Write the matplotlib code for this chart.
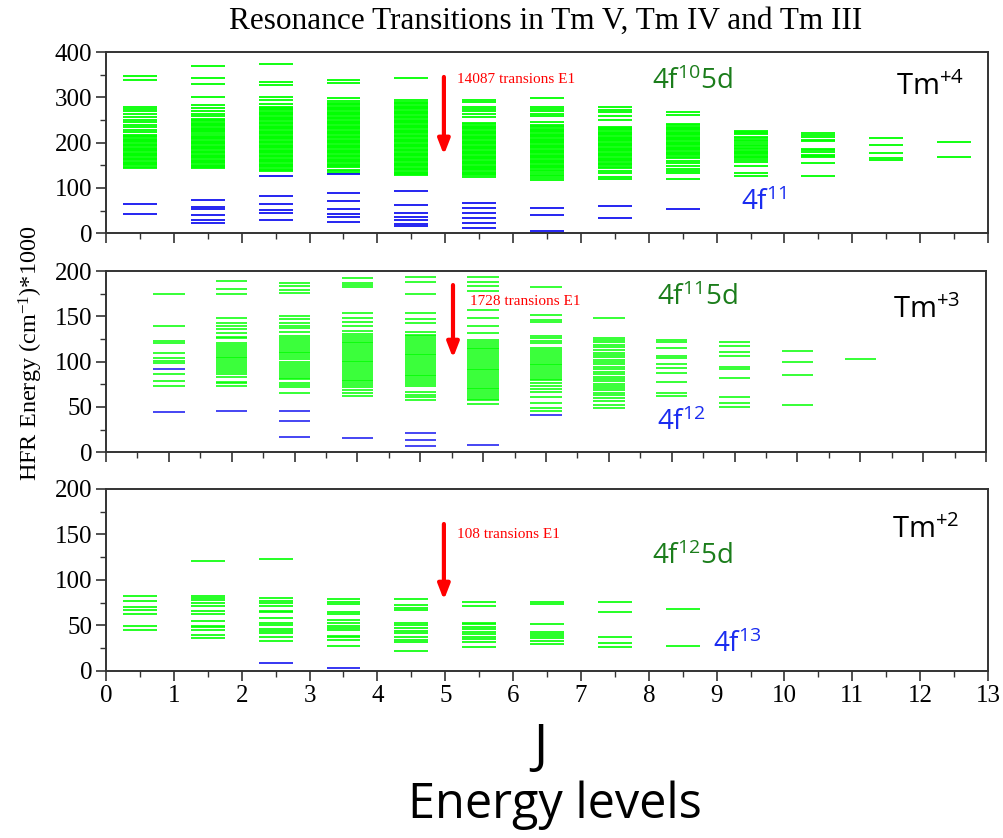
import matplotlib
matplotlib.use("Agg")
import matplotlib.pyplot as plt
from matplotlib.ticker import MultipleLocator, NullFormatter

# ---------------- Tm V (Tm+4) ----------------
tm4_J = [0.5, 1.5, 2.5, 3.5, 4.5, 5.5, 6.5, 7.5, 8.5, 9.5, 10.5, 11.5, 12.5]
tm4_g05 = [347.8, 338.8, 279.8, 274.7, 268.8, 263.7, 256.3, 250.4, 246.7, 239.4, 234.2, 228.3, 223.2, 217.3,
           214.6, 211.8, 209.0, 206.1, 203.3, 200.4, 197.7, 194.9, 192.0, 189.2, 186.5, 183.6, 180.8, 178.0,
           175.1, 172.3, 169.6, 166.8, 164.0, 161.2, 158.4, 155.2, 152.5, 149.7, 147.0, 143.6]
tm4_g15 = [368.3, 342.5, 330.0, 300.5, 282.9, 276.3, 268.8, 263.7, 257.8, 252.7, 250.0, 247.2, 244.4, 241.6,
           238.8, 236.0, 233.2, 230.4, 227.6, 224.8, 222.5, 218.6, 215.8, 213.0, 210.2, 207.4, 204.6, 201.8,
           199.0, 196.2, 193.4, 190.6, 187.8, 185.0, 182.2, 179.4, 176.6, 173.8, 171.0, 168.2, 165.4, 162.6,
           159.8, 157.0, 154.2, 151.4, 148.6, 145.8, 143.6]
tm4_g25 = [374.2, 334.4, 327.7, 300.5, 294.6, 285.8, 279.8, 277.0, 274.2, 271.4, 268.6, 265.8, 263.0, 260.2,
           257.4, 254.6, 251.8, 249.0, 246.2, 243.4, 240.6, 237.8, 235.0, 232.2, 229.4, 226.6, 223.8, 221.0,
           218.2, 215.4, 212.6, 209.8, 207.0, 204.2, 201.4, 198.6, 195.8, 193.0, 190.2, 187.4, 184.6, 181.8,
           179.0, 176.2, 173.4, 170.6, 167.8, 165.0, 162.2, 159.4, 156.6, 153.8, 151.0, 148.2, 145.4, 142.6,
           140.7, 137.0]
tm4_g35 = [337.3, 330.6, 297.5, 290.9, 288.1, 285.3, 282.5, 279.7, 276.9, 274.1, 271.3, 268.5, 265.7, 262.9,
           260.1, 257.3, 254.5, 251.7, 248.9, 246.1, 243.3, 240.5, 237.7, 234.9, 232.1, 229.3, 226.5, 223.7,
           220.9, 218.1, 215.3, 212.5, 209.7, 206.9, 204.1, 201.3, 198.5, 195.7, 192.9, 190.1, 187.3, 184.5,
           181.7, 178.9, 176.1, 173.3, 170.5, 167.7, 164.9, 162.1, 159.3, 156.5, 153.7, 150.9, 148.1, 145.8,
           140.5, 137.8, 133.0]
tm4_g45 = [341.7, 293.1, 290.3, 287.5, 284.7, 281.9, 279.1, 276.3, 273.5, 270.7, 267.9, 265.1, 262.3, 259.5,
           256.7, 253.9, 251.1, 248.3, 245.5, 242.7, 239.9, 237.1, 234.3, 231.5, 228.7, 225.9, 223.1, 220.3,
           217.5, 214.7, 211.9, 209.1, 206.3, 203.5, 200.7, 197.9, 195.1, 192.3, 189.5, 186.7, 183.9, 181.1,
           178.3, 175.5, 172.7, 169.9, 167.1, 164.3, 161.5, 158.7, 155.9, 153.1, 150.3, 147.5, 144.7, 141.9,
           139.1, 136.3, 133.5, 130.7, 128.8]
tm4_g55 = [294.6, 289.4, 279.8, 274.7, 268.8, 263.7, 256.3, 243.1, 240.4, 237.6, 234.9, 232.1, 229.4, 226.6,
           223.9, 221.1, 218.4, 215.6, 212.9, 210.1, 207.4, 204.6, 201.9, 199.1, 196.4, 193.6, 190.9, 188.1,
           185.4, 182.6, 179.9, 177.1, 174.4, 171.6, 168.9, 166.1, 163.4, 160.6, 157.9, 155.1, 152.4, 149.6,
           146.9, 144.1, 141.4, 138.6, 135.9, 133.1, 130.4, 127.6, 125.1]
tm4_g65 = [298.0, 279.8, 274.7, 268.8, 263.7, 257.8, 246.7, 239.4, 236.7, 233.9, 231.2, 228.4, 225.7, 222.9,
           220.2, 217.4, 214.7, 211.9, 209.2, 206.4, 203.7, 200.9, 198.2, 195.4, 192.7, 189.9, 187.2, 184.4,
           181.7, 178.9, 176.2, 173.4, 170.7, 167.9, 165.2, 162.4, 159.7, 156.9, 154.2, 151.4, 148.7, 145.9,
           143.2, 140.4, 136.8, 133.1, 129.5, 125.8, 121.6, 117.8]
tm4_g75 = [278.3, 272.5, 266.6, 259.3, 250.4, 235.6, 232.9, 230.1, 227.4, 224.6, 221.9, 219.1, 216.4, 213.6,
           210.9, 208.1, 205.4, 202.6, 199.9, 197.1, 194.4, 191.6, 188.9, 186.1, 183.4, 180.6, 177.9, 175.1,
           172.4, 169.6, 166.9, 164.1, 161.4, 158.6, 155.9, 153.1, 150.4, 147.2, 143.6, 138.4, 132.5, 125.1,
           119.3]
tm4_g85 = [268.1, 260.7, 240.9, 238.1, 235.4, 232.6, 229.9, 227.1, 224.4, 221.6, 218.9, 216.1, 213.4, 210.6,
           207.9, 205.1, 202.4, 199.6, 196.9, 194.1, 191.4, 188.6, 185.9, 183.1, 180.4, 177.6, 174.9, 172.1,
           169.3, 165.7, 160.5, 154.6, 149.5, 141.4, 138.4, 132.5, 119.3]
tm4_g95 = [226.1, 223.8, 220.9, 218.2, 213.6, 211.0, 206.2, 202.6, 199.8, 195.2, 192.5, 187.8, 185.0, 182.7,
           179.5, 176.8, 174.0, 171.6, 168.5, 165.7, 162.0, 158.4, 148.8, 134.0, 127.4]
tm4_g105 = [220.9, 218.0, 213.6, 206.2, 203.5, 186.3, 183.5, 178.9, 173.0, 170.5, 167.9, 156.1, 126.6]
tm4_g115 = [211.4, 195.2, 176.8, 165.7, 162.0]
tm4_g125 = [201.1, 169.4]
tm4_green = [tm4_g05, tm4_g15, tm4_g25, tm4_g35, tm4_g45, tm4_g55, tm4_g65,
             tm4_g75, tm4_g85, tm4_g95, tm4_g105, tm4_g115, tm4_g125]
tm4_blue = [[64.1, 43.3], [72.9, 59.0, 53.9, 40.6, 28.8, 23.6], [126.6, 83.1, 65.4, 52.2, 44.8, 28.6],
            [131.1, 89.1, 72.2, 54.5, 43.4, 35.3, 25.7], [94.2, 62.6, 44.8, 36.7, 29.4, 19.8, 15.4],
            [66.3, 55.2, 44.2, 33.2, 23.6, 11.1], [56.6, 40.4, 5.8], [61.0, 33.2], [53.7], [], [], [], []]

# ---------------- Tm IV (Tm+3) ----------------
tm3_J = [1, 2, 3, 4, 5, 6, 7, 8, 9, 10, 11, 12]
tm3_g1 = [174.6, 139.7, 122.8, 120.3, 109.2, 103.7, 101.1, 98.9, 86.0, 79.0, 73.1]
tm3_g2 = [188.9, 180.1, 174.2, 147.8, 142.3, 139.7, 135.7, 131.3, 127.6, 125.8, 120.3, 118.2, 116.1, 114.0,
          111.9, 109.8, 107.7, 105.6, 103.5, 101.4, 99.3, 97.2, 95.1, 93.0, 91.0, 89.1, 86.4, 83.5, 78.0,
          76.1, 73.1]
tm3_g3 = [186.4, 183.5, 179.1, 175.4, 150.4, 147.1, 142.3, 139.7, 136.8, 132.8, 128.3, 126.2, 124.0, 121.9,
          119.7, 117.6, 115.4, 113.3, 111.1, 109.0, 106.8, 104.7, 102.5, 99.6, 97.5, 95.3, 93.2, 91.0, 88.9,
          86.7, 84.6, 82.4, 80.3, 76.6, 74.0, 72.2, 65.9]
tm3_g4 = [191.9, 186.4, 184.5, 182.7, 153.2, 147.8, 143.4, 139.7, 133.8, 130.6, 128.5, 126.4, 124.3, 122.2,
          120.1, 118.0, 115.9, 113.8, 111.7, 109.6, 107.5, 105.4, 103.3, 101.2, 99.1, 97.0, 94.9, 92.8, 90.7,
          88.6, 86.5, 84.4, 82.3, 80.2, 78.1, 76.0, 74.1, 72.2, 68.5, 65.6, 61.9]
tm3_g5 = [193.0, 188.2, 174.2, 153.2, 147.1, 142.3, 133.1, 129.9, 127.8, 125.7, 123.6, 121.5, 119.4, 117.3,
          115.2, 113.1, 111.0, 108.9, 106.8, 104.7, 102.6, 100.5, 98.4, 96.3, 94.2, 92.1, 90.0, 87.9, 85.8,
          83.7, 81.6, 79.5, 77.4, 75.3, 73.2, 66.7, 63.0, 60.5, 58.2]
tm3_g6 = [193.0, 188.2, 183.8, 178.3, 157.0, 147.8, 139.7, 132.0, 123.9, 121.8, 119.7, 117.6, 115.5, 113.4,
          111.3, 109.2, 107.1, 105.0, 102.9, 100.8, 98.7, 96.6, 94.5, 92.4, 90.3, 88.2, 86.1, 84.0, 81.9,
          79.8, 77.7, 75.6, 73.5, 71.4, 69.3, 67.2, 65.1, 63.0, 60.9, 58.8, 57.6, 53.2]
tm3_g7 = [182.7, 151.4, 145.9, 143.4, 128.3, 125.7, 123.1, 120.2, 114.7, 112.6, 110.5, 108.4, 106.3, 104.2,
          102.1, 100.0, 97.9, 95.8, 93.7, 91.6, 89.5, 87.4, 85.3, 83.2, 81.1, 79.7, 76.0, 73.1, 69.4, 66.1,
          61.3, 54.0, 48.5, 45.9]
tm3_g8 = [147.8, 125.7, 123.9, 122.1, 118.4, 115.8, 112.9, 110.0, 107.4, 104.8, 101.9, 100.1, 97.5, 94.6,
          91.6, 89.1, 86.5, 83.6, 80.7, 78.1, 75.5, 73.3, 70.7, 68.2, 65.2, 62.7, 59.7, 56.1, 52.4, 48.7]
tm3_g9 = [123.9, 121.3, 114.7, 106.3, 103.7, 97.5, 92.7, 87.2, 78.0, 65.9, 62.6]
tm3_g10 = [122.1, 117.4, 111.1, 106.3, 93.8, 91.6, 82.4, 60.7, 54.9, 50.5]
tm3_g11 = [111.7, 100.0, 85.6, 51.7]
tm3_g12 = [102.9]
tm3_green = [tm3_g1, tm3_g2, tm3_g3, tm3_g4, tm3_g5, tm3_g6, tm3_g7, tm3_g8, tm3_g9, tm3_g10, tm3_g11, tm3_g12]
tm3_blue = [[92.2, 44.8], [45.6], [46.0, 34.2, 17.2], [16.1], [21.6, 13.5, 6.9], [8.4], [41.1],
            [], [], [], [], []]

# ---------------- Tm III (Tm+2) ----------------
tm2_J = [0.5, 1.5, 2.5, 3.5, 4.5, 5.5, 6.5, 7.5, 8.5]
tm2_green = [
    [82.4, 77.3, 70.7, 67.1, 62.7, 49.9, 44.7],
    [120.9, 82.8, 80.6, 78.0, 74.4, 71.8, 65.9, 62.7, 54.6, 49.9, 48.0, 45.1, 39.6, 35.9],
    [123.1, 79.9, 77.3, 74.4, 71.4, 66.3, 64.5, 57.9, 52.4, 50.5, 46.2, 44.3, 42.1, 37.7, 33.0],
    [78.8, 76.2, 73.3, 64.5, 62.3, 56.1, 52.4, 49.9, 47.6, 45.1, 38.8, 37.0, 34.1, 27.8],
    [78.8, 72.5, 68.9, 67.1, 53.1, 50.5, 47.6, 44.3, 41.4, 37.7, 34.1, 31.5, 22.4],
    [76.2, 71.4, 53.1, 51.3, 48.7, 46.2, 43.3, 40.7, 37.7, 34.8, 31.5, 26.7],
    [76.2, 73.3, 51.6, 43.3, 40.7, 38.5, 35.9, 33.3, 29.7],
    [76.2, 64.5, 37.0, 31.1, 26.7],
    [67.8, 27.8],
]
tm2_blue = [[], [], [8.8], [2.9], [], [], [], [], []]

x_ticks = list(range(0, 14))

GREEN = "#00ff00"
BLUE = "#1414f0"
LBL_GREEN = "#1b7d1b"
LBL_BLUE = "#1a2cf0"
SERIF = "Liberation Serif"
SANS = "Open Sans"

fig = plt.figure(figsize=(10.04, 8.38), dpi=100)

def make_axes(rect, xmax, ymax, ymaj, ymin, show_x):
    ax = fig.add_axes(rect)
    ax.set_xlim(0, xmax)
    ax.set_ylim(0, ymax)
    ax.xaxis.set_major_locator(MultipleLocator(1))
    ax.xaxis.set_minor_locator(MultipleLocator(0.5))
    ax.yaxis.set_major_locator(MultipleLocator(ymaj))
    ax.yaxis.set_minor_locator(MultipleLocator(ymin))
    ax.tick_params(which="both", direction="out", top=False, right=False, color="#333333")
    ax.tick_params(which="major", length=7, width=1.2, labelsize=18, pad=3)
    ax.tick_params(which="minor", length=4, width=1.0)
    for lab in ax.get_yticklabels() + ax.get_xticklabels():
        lab.set_fontfamily(SERIF)
    if not show_x:
        ax.xaxis.set_major_formatter(NullFormatter())
    for s in ax.spines.values():
        s.set_linewidth(1.4)
        s.set_color("#333333")
    return ax

def draw(ax, Js, greens, blues, lw, half=0.25):
    for J, g, b in zip(Js, greens, blues):
        if g:
            ax.hlines(g, J - half, J + half, color=GREEN, lw=lw)
        if b:
            ax.hlines(b, J - half, J + half, color=BLUE, lw=lw)

ax1 = make_axes([0.1056, 0.7216, 0.8785, 0.2163], 13, 400, 100, 50, False)
ax2 = make_axes([0.1056, 0.4603, 0.8765, 0.2163], 14, 200, 50, 25, False)
ax3 = make_axes([0.1056, 0.1993, 0.8785, 0.2172], 13, 200, 50, 25, True)
ax3.set_xticks(x_ticks)
for lab in ax3.get_xticklabels():
    lab.set_fontfamily(SERIF)
    lab.set_fontsize(18)

draw(ax1, tm4_J, tm4_green, tm4_blue, 1.3)
draw(ax2, tm3_J, tm3_green, tm3_blue, 1.1)
draw(ax3, tm2_J, tm2_green, tm2_blue, 1.2)

def arrow(ax, x, y0, y1):
    ax.annotate("", xy=(x, y1), xytext=(x, y0),
                arrowprops=dict(arrowstyle="-|>,head_length=0.9,head_width=0.35", color="red",
                                lw=3, shrinkA=0, shrinkB=0))

# panel 1 annotations
arrow(ax1, 4.98, 345, 173)
ax1.text(5.18, 339, "14087 transions E1", color="red", fontsize=11, family=SERIF, va="center")
ax1.text(8.04, 334, r"4f$\mathregular{^{10}}$5d", color=LBL_GREEN, fontsize=20, family=SANS, va="center")
ax1.text(9.36, 67, r"4f$\mathregular{^{11}}$", color=LBL_BLUE, fontsize=20, family=SANS, va="center")
ax1.text(11.65, 322, r"Tm$\mathregular{^{+4}}$", color="black", fontsize=21, family=SANS, va="center")

# panel 2 annotations
arrow(ax2, 5.52, 184.5, 104)
ax2.text(5.79, 166, "1728 transions E1", color="red", fontsize=11, family=SERIF, va="center")
ax2.text(8.77, 170, r"4f$\mathregular{^{11}}$5d", color=LBL_GREEN, fontsize=20, family=SANS, va="center")
ax2.text(8.77, 33, r"4f$\mathregular{^{12}}$", color=LBL_BLUE, fontsize=20, family=SANS, va="center")
ax2.text(12.52, 157, r"Tm$\mathregular{^{+3}}$", color="black", fontsize=21, family=SANS, va="center")

# panel 3 annotations
arrow(ax3, 4.98, 161.5, 78)
ax3.text(5.18, 149.5, "108 transions E1", color="red", fontsize=11, family=SERIF, va="center")
ax3.text(8.04, 125, r"4f$\mathregular{^{12}}$5d", color=LBL_GREEN, fontsize=20, family=SANS, va="center")
ax3.text(8.95, 29, r"4f$\mathregular{^{13}}$", color=LBL_BLUE, fontsize=20, family=SANS, va="center")
ax3.text(11.58, 155, r"Tm$\mathregular{^{+2}}$", color="black", fontsize=21, family=SANS, va="center")

fig.text(0.543, 0.975, "Resonance Transitions in Tm V, Tm IV and Tm III", ha="center", va="center",
         fontsize=22.5, family=SERIF)
fig.text(0.031, 0.579, r"HFR Energy (cm$\mathregular{^{-1}}$)*1000", rotation=90, ha="center", va="center",
         fontsize=17.5, family=SERIF)
fig.text(0.538, 0.107, "J", ha="center", va="center", fontsize=38, family=SANS)
fig.text(0.553, 0.039, "Energy levels", ha="center", va="center", fontsize=35, family=SANS)

fig.savefig("out.png", dpi=100)
